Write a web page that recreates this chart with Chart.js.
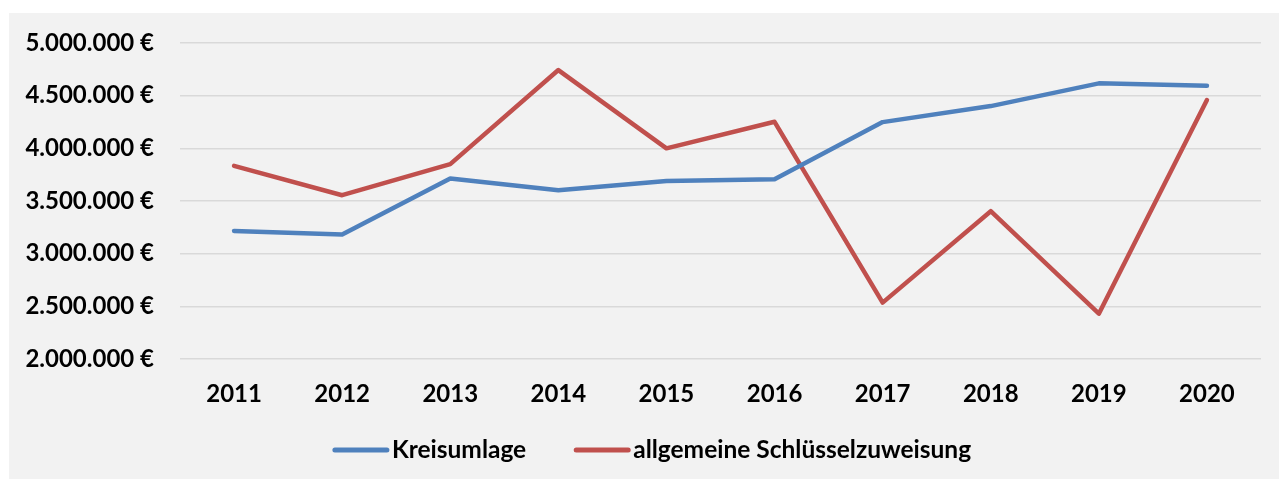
<!DOCTYPE html>
<html>
<head>
<meta charset="utf-8">
<script src="https://cdn.jsdelivr.net/npm/chart.js@4"></script>
<style>
  body { margin: 0; background: #fff; }
  #box { position: absolute; left: 9px; top: 13px; width: 1270px; height: 466px; background: #f2f2f2; }
  canvas { display: block; }
</style>
</head>
<body>
<div id="box"><canvas id="chart" width="1270" height="466"></canvas></div>
<script>
// Data
const years = ['2011', '2012', '2013', '2014', '2015', '2016', '2017', '2018', '2019', '2020'];
const kreisumlage = [3216000, 3181000, 3714000, 3603000, 3690000, 3707000, 4249000, 4401000, 4617000, 4594000];
const schluesselzuweisung = [3834000, 3555000, 3850000, 4743000, 4000000, 4252000, 2535000, 3403000, 2430000, 4458000];
const seriesNames = ['Kreisumlage', 'allgemeine Schlüsselzuweisung'];
const seriesColors = ['#4f81bd', '#c0504d'];
const yMin = 2000000, yMax = 5000000, yStep = 500000;

const FONT = 'Lato, "Open Sans", sans-serif';

// German number format: 5.000.000 €
function euro(v){
  return String(Math.round(v)).replace(/\B(?=(\d{3})+(?!\d))/g, '.') + ' €';
}

// Draws the legend with short lines like the original
const lineLegend = {
  id: 'lineLegend',
  afterDraw(chart){
    const ctx = chart.ctx;
    const lineW = 56, gap = 3, itemGap = 48, y = 437, centerX = 643;
    ctx.save();
    ctx.font = 'bold 24.5px ' + FONT;
    let items = chart.data.datasets.map(ds => ({label: ds.label, color: ds.borderColor, w: ctx.measureText(ds.label).width}));
    let total = items.reduce((s, it) => s + lineW + gap + it.w, 0) + itemGap * (items.length - 1);
    let x = centerX - total / 2;
    items.forEach(it => {
      ctx.strokeStyle = it.color;
      ctx.lineWidth = 5;
      ctx.lineCap = 'round';
      ctx.beginPath();
      ctx.moveTo(x + 2, y);
      ctx.lineTo(x + lineW - 2, y);
      ctx.stroke();
      ctx.fillStyle = '#000';
      ctx.textBaseline = 'middle';
      ctx.textAlign = 'left';
      ctx.fillText(it.label, x + lineW + gap, y);
      x += lineW + gap + it.w + itemGap;
    });
    ctx.restore();
  }
};

new Chart(document.getElementById('chart'), {
  type: 'line',
  data: {
    labels: years,
    datasets: [
      {label: seriesNames[0], data: kreisumlage, borderColor: seriesColors[0], backgroundColor: seriesColors[0]},
      {label: seriesNames[1], data: schluesselzuweisung, borderColor: seriesColors[1], backgroundColor: seriesColors[1]}
    ]
  },
  options: {
    responsive: false,
    animation: false,
    layout: {padding: {top: 30, right: 18, bottom: 70, left: 0}},
    elements: {
      line: {borderWidth: 4.5, tension: 0, borderJoinStyle: 'round', borderCapStyle: 'round'},
      point: {radius: 0, hoverRadius: 0}
    },
    plugins: {legend: {display: false}, tooltip: {enabled: false}},
    scales: {
      x: {
        offset: true,
        grid: {display: false, drawTicks: false},
        border: {display: false},
        ticks: {color: '#000', font: {family: FONT, size: 24, weight: 'bold'}, padding: 21, maxRotation: 0},
        afterFit(scale){ scale.height = 50; scale.paddingLeft = 0; scale.paddingRight = 0; }
      },
      y: {
        min: yMin,
        max: yMax,
        grid: {color: '#d9d9d9', lineWidth: 1.5, drawTicks: false},
        border: {display: false},
        ticks: {
          stepSize: yStep,
          color: '#000',
          font: {family: FONT, size: 24, weight: 'bold'},
          padding: 26,
          callback: v => euro(v)
        },
        afterFit(scale){ scale.width = 171; scale.paddingTop = 0; scale.paddingBottom = 0; }
      }
    }
  },
  plugins: [lineLegend]
});
</script>
</body>
</html>
